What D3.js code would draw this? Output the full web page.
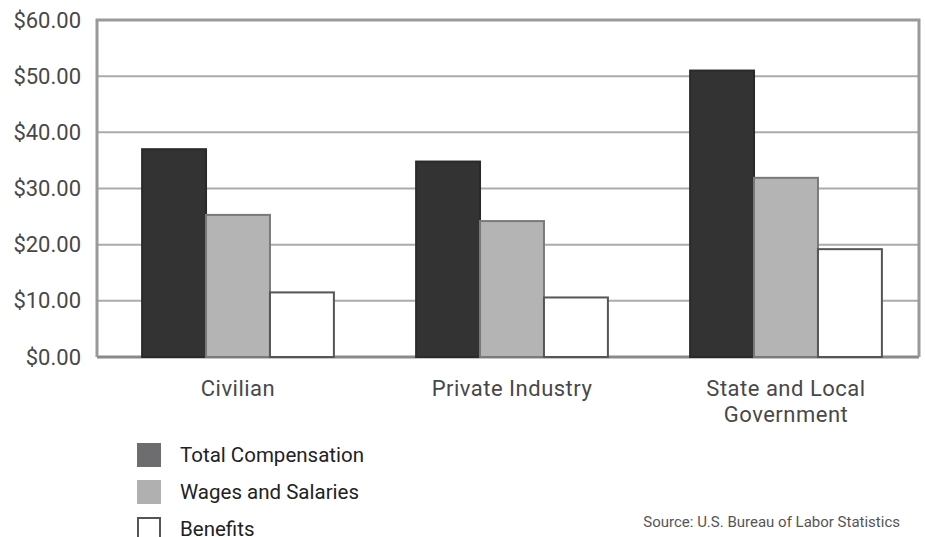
<!DOCTYPE html>
<html>
<head>
<meta charset="utf-8">
<script src="https://cdn.jsdelivr.net/npm/d3@7"></script>
<style>
  body { margin: 0; background: #fff; }
  svg { font-family: Roboto, 'Liberation Sans', sans-serif; }
</style>
</head>
<body>
<svg width="925" height="537"></svg>
<script>
const categories = ['Civilian', 'Private Industry', 'State and Local Government']
const seriesNames = ['Total Compensation', 'Wages and Salaries', 'Benefits']
const totalComp = [37.0, 34.8, 51.0]
const wages = [25.3, 24.2, 31.9]
const benefits = [11.5, 10.6, 19.2]
const yTicks = [0, 10, 20, 30, 40, 50, 60]

const svg = d3.select('svg')
const plotLeft = 97
const plotRight = 919
const plotTop = 20
const plotBottom = 357

const seriesValues = [totalComp, wages, benefits]
const fills = ['#333333', '#b4b4b4', '#ffffff']
const strokes = ['#2a2a2a', '#7a7a7a', '#555555']
const legendFills = ['#6d6d70', '#b0b0b0', '#ffffff']

const y = d3.scaleLinear().domain([0, 60]).range([plotBottom, plotTop])
const x0 = d3.scaleBand().domain(categories).range([plotLeft + 4, plotRight + 4]).paddingInner(0.3).paddingOuter(0.15)
const x1 = d3.scaleBand().domain(seriesNames).range([0, x0.bandwidth()])

// gridlines
svg.append('g')
  .selectAll('line')
  .data(yTicks)
  .enter().append('line')
  .attr('x1', plotLeft)
  .attr('x2', plotRight)
  .attr('y1', d => y(d))
  .attr('y2', d => y(d))
  .attr('stroke', d => d === 0 ? '#8a8a8a' : '#ababab')
  .attr('stroke-width', d => d === 0 ? 3 : 2)

// frame
svg.append('path')
  .attr('d', `M${plotLeft},${plotBottom}V${plotTop}H${plotRight}V${plotBottom}`)
  .attr('fill', 'none')
  .attr('stroke', '#9a9a9a')
  .attr('stroke-width', 3)

// y axis labels
const yAxis = svg.append('g')
  .attr('transform', `translate(${plotLeft},0)`)
  .call(d3.axisLeft(y).tickValues(yTicks).tickSize(0).tickPadding(16).tickFormat(d => '$' + d.toFixed(2)))
yAxis.select('.domain').remove()
yAxis.selectAll('text')
  .attr('font-size', 22)
  .attr('fill', '#484848')
  .attr('font-family', 'Roboto, sans-serif')

// bars
const groups = svg.append('g')
  .selectAll('g')
  .data(categories)
  .enter().append('g')
  .attr('transform', d => `translate(${x0(d)},0)`)

groups.selectAll('rect')
  .data((c, ci) => seriesNames.map((s, si) => ({ s, si, v: seriesValues[si][ci] })))
  .enter().append('rect')
  .attr('x', d => x1(d.s))
  .attr('y', d => y(d.v))
  .attr('width', x1.bandwidth())
  .attr('height', d => y(0) - y(d.v))
  .attr('fill', d => fills[d.si])
  .attr('stroke', d => strokes[d.si])
  .attr('stroke-width', 2)

// category labels
const catLabels = svg.append('g')
  .selectAll('text')
  .data(categories)
  .enter().append('text')
  .attr('x', d => x0(d) + x0.bandwidth() / 2)
  .attr('y', 396)
  .attr('text-anchor', 'middle')
  .attr('font-size', 22)
  .attr('letter-spacing', 0.5)
  .attr('fill', '#484848')

catLabels.each(function (d) {
  const t = d3.select(this)
  const lines = d === 'State and Local Government' ? ['State and Local', 'Government'] : [d]
  lines.forEach((line, i) => {
    t.append('tspan')
      .attr('x', x0(d) + x0.bandwidth() / 2)
      .attr('dy', i === 0 ? 0 : 26)
      .text(line)
  })
})

// legend
const legend = svg.append('g')
  .attr('transform', 'translate(137,443)')
const legendItems = legend.selectAll('g')
  .data(seriesNames)
  .enter().append('g')
  .attr('transform', (d, i) => `translate(0,${i * 37})`)

legendItems.append('rect')
  .attr('x', (d, i) => i === 2 ? 1 : 0)
  .attr('y', (d, i) => i === 2 ? 1 : 0)
  .attr('width', (d, i) => i === 2 ? 22 : 24)
  .attr('height', (d, i) => i === 2 ? 22 : 24)
  .attr('fill', (d, i) => legendFills[i])
  .attr('stroke', (d, i) => i === 2 ? '#555' : 'none')
  .attr('stroke-width', 2)

legendItems.append('text')
  .attr('x', 43)
  .attr('y', 19)
  .attr('font-size', 20.5)
  .attr('fill', '#222')
  .text(d => d)

// source
svg.append('text')
  .attr('x', 900)
  .attr('y', 527)
  .attr('text-anchor', 'end')
  .attr('font-size', 15)
  .attr('fill', '#555')
  .text('Source: U.S. Bureau of Labor Statistics')
</script>
</body>
</html>
